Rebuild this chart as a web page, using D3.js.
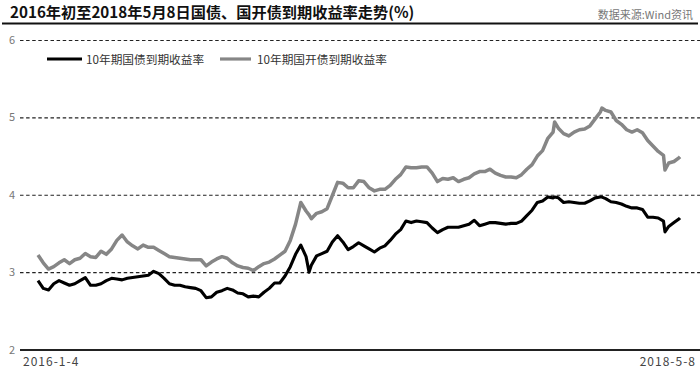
<!DOCTYPE html>
<html>
<head>
<meta charset="utf-8">
<script src="https://cdn.jsdelivr.net/npm/d3@7"></script>
<style>
    body { margin: 0; background: #fff; }
    svg { display: block; font-family: "Noto Sans CJK SC", "Noto Sans", sans-serif; }
</style>
</head>
<body>
<div id="chart"></div>
<script>
//绘图尺寸
const width = 700;
const height = 371;

const title = "2016年初至2018年5月8日国债、国开债到期收益率走势(%)";
const source = "数据来源:Wind资讯";
const seriesNames = ["10年期国债到期收益率", "10年期国开债到期收益率"];
const yTicks = [2, 3, 4, 5, 6];
const xLabels = ["2016-1-4", "2018-5-8"];

//周度采样日期（含几个关键日）
const dates = [
    "2016-01-04", "2016-01-11", "2016-01-18", "2016-01-25",
    "2016-02-01", "2016-02-08", "2016-02-15", "2016-02-22", "2016-02-29",
    "2016-03-07", "2016-03-14", "2016-03-21", "2016-03-28",
    "2016-04-04", "2016-04-11", "2016-04-18", "2016-04-25",
    "2016-05-02", "2016-05-09", "2016-05-16", "2016-05-23", "2016-05-30",
    "2016-06-06", "2016-06-13", "2016-06-20", "2016-06-27",
    "2016-07-04", "2016-07-11", "2016-07-18", "2016-07-25",
    "2016-08-01", "2016-08-08", "2016-08-15", "2016-08-22", "2016-08-29",
    "2016-09-05", "2016-09-12", "2016-09-19", "2016-09-26",
    "2016-10-03", "2016-10-10", "2016-10-17", "2016-10-24", "2016-10-31",
    "2016-11-07", "2016-11-14", "2016-11-21", "2016-11-28",
    "2016-12-05", "2016-12-12", "2016-12-19", "2016-12-26", "2016-12-30",
    "2017-01-02", "2017-01-09", "2017-01-16", "2017-01-23", "2017-01-30",
    "2017-02-06", "2017-02-13", "2017-02-20", "2017-02-27",
    "2017-03-06", "2017-03-13", "2017-03-20", "2017-03-27",
    "2017-04-03", "2017-04-10", "2017-04-17", "2017-04-24",
    "2017-05-01", "2017-05-08", "2017-05-15", "2017-05-22", "2017-05-29",
    "2017-06-05", "2017-06-12", "2017-06-19", "2017-06-26",
    "2017-07-03", "2017-07-10", "2017-07-17", "2017-07-24", "2017-07-31",
    "2017-08-07", "2017-08-14", "2017-08-21", "2017-08-28",
    "2017-09-04", "2017-09-11", "2017-09-18", "2017-09-25",
    "2017-10-02", "2017-10-09", "2017-10-16", "2017-10-23", "2017-10-30",
    "2017-11-06", "2017-11-13", "2017-11-20", "2017-11-22", "2017-11-27",
    "2017-12-04", "2017-12-11", "2017-12-18", "2017-12-25",
    "2018-01-01", "2018-01-08", "2018-01-15", "2018-01-22", "2018-01-24", "2018-01-29",
    "2018-02-05", "2018-02-12", "2018-02-19", "2018-02-26",
    "2018-03-05", "2018-03-12", "2018-03-19", "2018-03-26",
    "2018-04-02", "2018-04-09", "2018-04-16", "2018-04-18", "2018-04-23", "2018-04-30",
    "2018-05-07", "2018-05-08"
];

//10年期国债
const govYield = [
    2.89, 2.79, 2.77, 2.85,
    2.89, 2.86, 2.83, 2.85, 2.89,
    2.93, 2.83, 2.83, 2.85,
    2.89, 2.92, 2.91, 2.90,
    2.92, 2.93, 2.94, 2.95, 2.96,
    3.01, 2.98, 2.92, 2.85,
    2.83, 2.83, 2.81, 2.80,
    2.79, 2.76, 2.67, 2.68, 2.74,
    2.76, 2.79, 2.77, 2.73,
    2.72, 2.68, 2.69, 2.68, 2.74,
    2.79, 2.86, 2.86, 2.95,
    3.07, 3.23, 3.35, 3.20, 3.00,
    3.09, 3.21, 3.24, 3.27, 3.39,
    3.47, 3.39, 3.29, 3.33,
    3.38, 3.34, 3.30, 3.26,
    3.31, 3.34, 3.41, 3.49,
    3.55, 3.66, 3.64, 3.66, 3.65,
    3.64, 3.57, 3.51, 3.55,
    3.58, 3.58, 3.58, 3.60, 3.62,
    3.67, 3.60, 3.62, 3.64,
    3.64, 3.63, 3.62, 3.63,
    3.63, 3.66, 3.73, 3.80, 3.90,
    3.92, 3.97, 3.96, 3.97, 3.96,
    3.90, 3.91, 3.90, 3.89,
    3.89, 3.92, 3.96, 3.97, 3.97, 3.95,
    3.91, 3.90, 3.88, 3.85,
    3.83, 3.83, 3.81, 3.71,
    3.71, 3.70, 3.66, 3.52, 3.59, 3.64,
    3.69, 3.70
];

//10年期国开债
const cdbYield = [
    3.22, 3.12, 3.04, 3.07,
    3.12, 3.16, 3.11, 3.16, 3.18,
    3.24, 3.20, 3.19, 3.27,
    3.23, 3.30, 3.41, 3.48,
    3.39, 3.34, 3.30, 3.35, 3.32,
    3.32, 3.28, 3.24, 3.20,
    3.19, 3.18, 3.17, 3.16,
    3.16, 3.16, 3.08, 3.13, 3.17,
    3.20, 3.18, 3.12, 3.08,
    3.06, 3.05, 3.02, 3.07, 3.11,
    3.13, 3.17, 3.22, 3.27,
    3.41, 3.62, 3.90, 3.79, 3.74,
    3.69, 3.76, 3.78, 3.82, 3.99,
    4.16, 4.15, 4.09, 4.09,
    4.18, 4.17, 4.09, 4.05,
    4.07, 4.07, 4.12, 4.20,
    4.26, 4.36, 4.35, 4.35, 4.36,
    4.36, 4.28, 4.17, 4.21,
    4.20, 4.22, 4.17, 4.20, 4.22,
    4.27, 4.30, 4.30, 4.33,
    4.28, 4.25, 4.23, 4.23,
    4.22, 4.26, 4.33, 4.39, 4.50,
    4.57, 4.73, 4.81, 4.94, 4.86,
    4.79, 4.76, 4.81, 4.84,
    4.85, 4.89, 4.98, 5.07, 5.12, 5.09,
    5.07, 4.96, 4.91, 4.84,
    4.81, 4.84, 4.80, 4.70,
    4.63, 4.56, 4.51, 4.32, 4.41, 4.43,
    4.48, 4.49
];

const parseDate = d3.timeParse("%Y-%m-%d");
const dateObjs = dates.map(parseDate);

var svg = d3.select("#chart").append("svg")
    .attr("width", width).attr("height", height);

var x = d3.scaleTime()
    .domain([dateObjs[0], dateObjs[dateObjs.length - 1]])
    .range([38, 680]);

var y = d3.scaleLinear()
    .domain([2, 6])
    .range([349.5, 40]);

//标题
svg.append("text")
    .attr("x", 10)
    .attr("y", 17.5)
    .attr("font-size", 15.2)
    .attr("font-weight", "bold")
    .attr("fill", "#111")
    .text(title);

svg.append("text")
    .attr("x", 693)
    .attr("y", 19)
    .attr("text-anchor", "end")
    .attr("font-size", 11)
    .attr("fill", "#777")
    .text(source);

svg.append("line")
    .attr("x1", 2).attr("x2", 698)
    .attr("y1", 23.5).attr("y2", 23.5)
    .attr("stroke", "#111")
    .attr("stroke-width", 2);

//网格线和纵轴刻度
var grid = svg.append("g")
    .attr("transform", "translate(20,0)")
    .call(d3.axisLeft(y).tickValues(yTicks).tickSize(-680).tickFormat(d3.format("d")));

grid.attr("font-family", null);
grid.select(".domain").remove();

grid.selectAll(".tick line")
    .attr("stroke", "#222")
    .attr("stroke-width", d => d === 2 ? 2.2 : 1.1)
    .attr("stroke-dasharray", d => d === 2 ? null : "3.5,2.6");

grid.selectAll(".tick text")
    .attr("x", -8)
    .attr("text-anchor", "middle")
    .attr("font-size", 11)
    .attr("fill", "#777");

//横轴首尾日期
svg.append("text")
    .attr("x", 23)
    .attr("y", 366)
    .attr("font-size", 12)
    .attr("letter-spacing", 1)
    .attr("fill", "#444")
    .text(xLabels[0]);

svg.append("text")
    .attr("x", 696)
    .attr("y", 366)
    .attr("text-anchor", "end")
    .attr("font-size", 12)
    .attr("letter-spacing", 1)
    .attr("fill", "#444")
    .text(xLabels[1]);

//折线
var series = [
    {name: seriesNames[0], values: govYield, color: "#000", w: 3.1},
    {name: seriesNames[1], values: cdbYield, color: "#868686", w: 3.5}
];

var line = d3.line()
    .x((d, i) => x(dateObjs[i]))
    .y(d => y(d));

svg.append("g")
    .selectAll("path")
    .data(series)
    .enter()
    .append("path")
    .attr("d", d => line(d.values))
    .attr("fill", "none")
    .attr("stroke", d => d.color)
    .attr("stroke-width", d => d.w)
    .attr("stroke-linejoin", "round");

//图例
var legend = svg.append("g")
    .selectAll("g")
    .data(series)
    .enter()
    .append("g")
    .attr("transform", (d, i) => "translate(" + (i === 0 ? 47 : 220) + ",59)");

legend.append("line")
    .attr("x1", 0).attr("x2", (d, i) => i === 0 ? 35 : 31)
    .attr("stroke", d => d.color)
    .attr("stroke-width", 3.2);

legend.append("text")
    .attr("x", (d, i) => i === 0 ? 39 : 37)
    .attr("y", 4.5)
    .attr("font-size", 11.7)
    .attr("fill", "#333")
    .text(d => d.name);
</script>
</body>
</html>
